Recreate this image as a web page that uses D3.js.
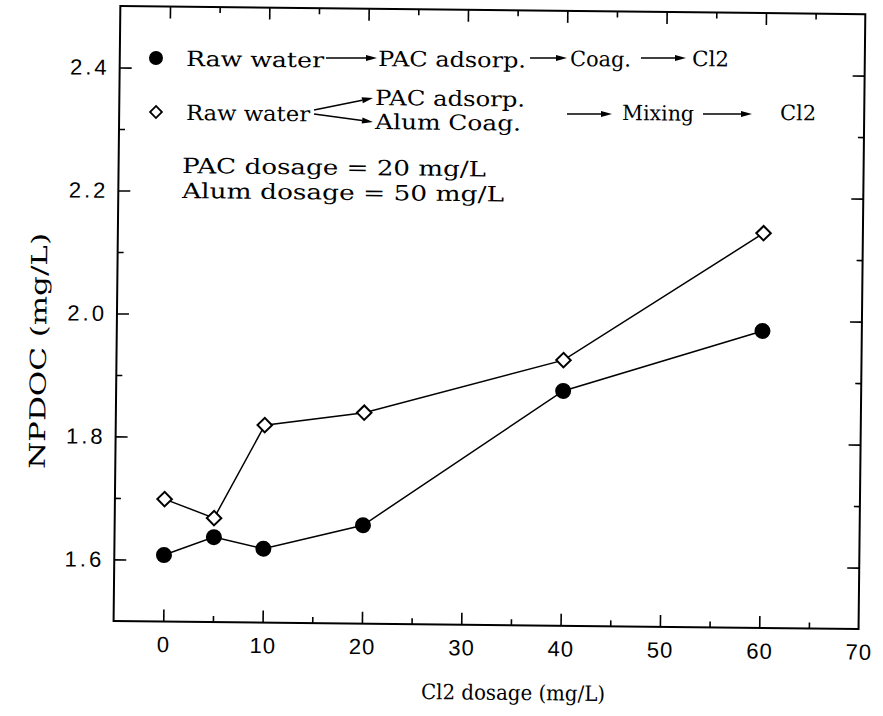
<!DOCTYPE html>
<html><head><meta charset="utf-8">
<script src="https://cdn.jsdelivr.net/npm/d3@7"></script>
<style>body{margin:0;background:#fff}svg{display:block}</style>
</head><body>
<svg id="c" width="883" height="716"></svg>
<script>
// ---- data ----
const cl2Dosage = [0, 5, 10, 20, 40, 60];
const npdocSequential = [1.608, 1.638, 1.620, 1.660, 1.882, 1.983];   // filled circles
const npdocMixing = [1.699, 1.669, 1.821, 1.843, 1.932, 2.142];       // open diamonds
const xTickVals = [0, 10, 20, 30, 40, 50, 60, 70];
const xMinorVals = [5, 15, 25, 35, 45, 55, 65];
const yTickVals = [1.6, 1.8, 2.0, 2.2, 2.4];
const yTickLabels = ["1.6", "1.8", "2.0", "2.2", "2.4"];
const yMinorVals = [1.7, 1.9, 2.1, 2.3];
const xTitle = "Cl2 dosage (mg/L)";
const yTitle = "NPDOC (mg/L)";

// ---- layout ----
const L = 117, R = 862, T = 10, B = 625;
const ANG = 0.63, CX = 487, CY = 313;
const serif = "'DejaVu Serif', serif";
const sans = "'Liberation Sans', Arial, sans-serif";

const svg = d3.select("#c");
svg.append("rect").attr("width", 883).attr("height", 716).attr("fill", "#fff");
const g = svg.append("g").attr("transform", `rotate(${ANG},${CX},${CY})`);

// map picture coords to the rotated group coords
const th = ANG * Math.PI / 180;
function un(xp, yp) {
  const dx = xp - CX, dy = yp - CY;
  return [CX + Math.cos(th) * dx + Math.sin(th) * dy, CY - Math.sin(th) * dx + Math.cos(th) * dy];
}

const x = d3.scaleLinear().domain([-5, 70]).range([L, R]);
const y = d3.scaleLinear().domain([1.5, 2.5]).range([B, T]);

// ---- axes ----
function styleAxis(sel) {
  sel.select(".domain").remove();
  sel.selectAll(".tick line").attr("stroke", "#000").attr("stroke-width", 1.6);
}
const axB = g.append("g").attr("transform", `translate(0,${B})`)
  .call(d3.axisBottom(x).tickValues(xTickVals).tickSize(-12).tickPadding(15).tickFormat(d3.format("d")));
styleAxis(axB);
axB.selectAll(".tick text").attr("font-family", sans).attr("font-size", 22).attr("fill", "#000").attr("letter-spacing", 1);
axB.selectAll(".tick").filter(d => d === 70).select("line").remove();

const axL = g.append("g").attr("transform", `translate(${L},0)`)
  .call(d3.axisLeft(y).tickValues(yTickVals).tickSize(-12).tickPadding(10).tickFormat((d, i) => yTickLabels[i]));
styleAxis(axL);
axL.selectAll(".tick text").attr("font-family", sans).attr("font-size", 22).attr("fill", "#000").attr("letter-spacing", 3);

const axT = g.append("g").attr("transform", `translate(0,${T})`)
  .call(d3.axisTop(x).tickValues(xTickVals.slice(0, -1)).tickSize(-12).tickFormat(""));
styleAxis(axT);
const axR = g.append("g").attr("transform", `translate(${R},0)`)
  .call(d3.axisRight(y).tickValues(yTickVals).tickSize(-12).tickFormat(""));
styleAxis(axR);

[[d3.axisBottom(x), B], [d3.axisTop(x), T]].forEach(([ax, pos]) => {
  const a = g.append("g").attr("transform", `translate(0,${pos})`)
    .call(ax.tickValues(xMinorVals).tickSize(-6).tickFormat(""));
  styleAxis(a);
});
[[d3.axisLeft(y), L], [d3.axisRight(y), R]].forEach(([ax, pos]) => {
  const a = g.append("g").attr("transform", `translate(${pos},0)`)
    .call(ax.tickValues(yMinorVals).tickSize(-6).tickFormat(""));
  styleAxis(a);
});

// frame
g.append("rect").attr("x", L).attr("y", T).attr("width", R - L).attr("height", B - T)
  .attr("fill", "none").attr("stroke", "#000").attr("stroke-width", 2);

// ---- titles ----
const xt = un(513, 700);
g.append("text").attr("x", xt[0]).attr("y", xt[1]).attr("text-anchor", "middle")
  .attr("font-family", serif).attr("font-size", 21)
  .attr("textLength", 184).attr("lengthAdjust", "spacingAndGlyphs").text(xTitle);
const yt = un(46, 351);
g.append("text").attr("transform", `translate(${yt[0]},${yt[1]}) rotate(-90)`).attr("text-anchor", "middle")
  .attr("font-family", serif).attr("font-size", 22)
  .attr("textLength", 236).attr("lengthAdjust", "spacingAndGlyphs").text(yTitle);

// ---- series ----
const line = d3.line().x(d => x(d[0])).y(d => y(d[1]));
const seqPts = cl2Dosage.map((d, i) => [d, npdocSequential[i]]);
const mixPts = cl2Dosage.map((d, i) => [d, npdocMixing[i]]);
g.append("path").datum(seqPts).attr("d", line).attr("fill", "none").attr("stroke", "#000").attr("stroke-width", 1.5);
g.append("path").datum(mixPts).attr("d", line).attr("fill", "none").attr("stroke", "#000").attr("stroke-width", 1.5);
g.selectAll("circle.seq").data(seqPts).join("circle").attr("class", "seq")
  .attr("cx", d => x(d[0])).attr("cy", d => y(d[1])).attr("r", 8).attr("fill", "#000");
g.selectAll("path.mix").data(mixPts).join("path").attr("class", "mix")
  .attr("transform", d => `translate(${x(d[0])},${y(d[1])}) rotate(45)`)
  .attr("d", d3.symbol().type(d3.symbolSquare).size(105))
  .attr("fill", "#fff").attr("stroke", "#000").attr("stroke-width", 2);

// ---- legend ----
const leg = g.append("g").attr("font-family", serif).attr("font-size", 21).attr("fill", "#000");
function txt(s, xp, yp, len) {
  const p = un(xp, yp);
  const t = leg.append("text").attr("x", p[0]).attr("y", p[1]).text(s);
  if (len) t.attr("textLength", len).attr("lengthAdjust", "spacingAndGlyphs");
}
function arrow(x1, y1, x2, y2) {
  const a = un(x1, y1), b = un(x2, y2);
  const ang = Math.atan2(b[1] - a[1], b[0] - a[0]);
  const hl = 11, hw = 3;
  const bx = b[0] - hl * Math.cos(ang), by = b[1] - hl * Math.sin(ang);
  leg.append("line").attr("x1", a[0]).attr("y1", a[1]).attr("x2", bx).attr("y2", by)
    .attr("stroke", "#000").attr("stroke-width", 1.5);
  const nx = -Math.sin(ang) * hw, ny = Math.cos(ang) * hw;
  leg.append("path").attr("d", `M${b[0]},${b[1]}L${bx + nx},${by + ny}L${bx - nx},${by - ny}Z`).attr("fill", "#000");
}
// row 1
let p = un(156, 58);
leg.append("circle").attr("cx", p[0]).attr("cy", p[1]).attr("r", 7).attr("fill", "#000");
txt("Raw water", 186, 66, 138);
arrow(326, 58, 377, 58);
txt("PAC adsorp.", 378, 66, 148);
arrow(530, 58, 567, 58);
txt("Coag.", 570, 66, 61);
arrow(641, 58, 686, 58);
txt("Cl2", 692, 66, 37);
// row 2
p = un(156, 112);
leg.append("path").attr("transform", `translate(${p[0]},${p[1]}) rotate(45)`)
  .attr("d", d3.symbol().type(d3.symbolSquare).size(70)).attr("fill", "#fff").attr("stroke", "#000").attr("stroke-width", 1.8);
txt("Raw water", 186, 120, 124);
arrow(314, 110, 373, 98);
arrow(314, 114, 373, 122);
txt("PAC adsorp.", 375, 105, 150);
txt("Alum Coag.", 375, 129, 146);
arrow(567, 114, 612, 114);
txt("Mixing", 622, 120, 72);
arrow(703, 114, 752, 114);
txt("Cl2", 780, 120, 36);
// rows 3-4
txt("PAC dosage = 20 mg/L", 182, 173, 304);
txt("Alum dosage = 50 mg/L", 182, 198, 322);
</script>
</body></html>
